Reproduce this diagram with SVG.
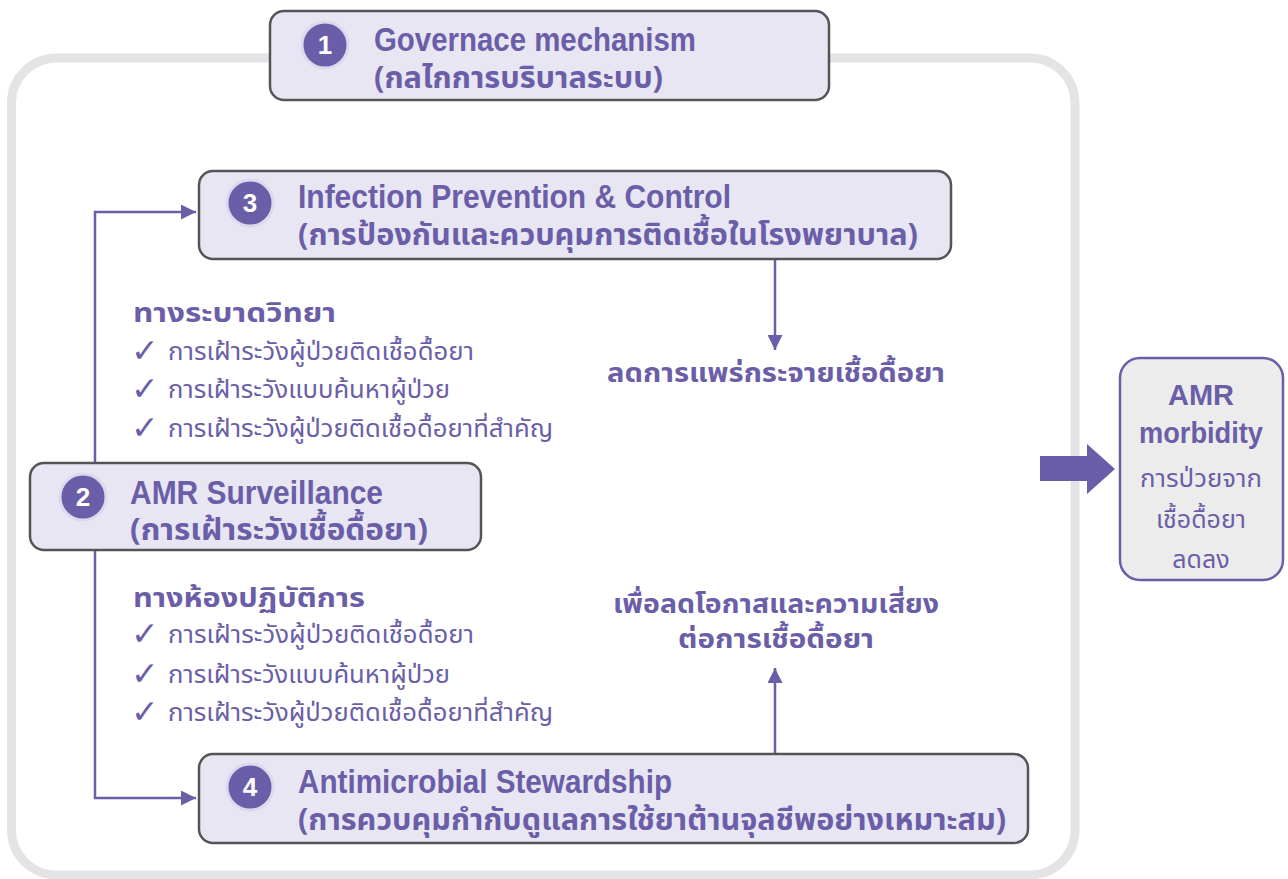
<svg xmlns="http://www.w3.org/2000/svg" width="1288" height="879" viewBox="0 0 1288 879">
<defs>
<style>
.box{fill:#e8e6f3;stroke:#555558;stroke-width:2.5}
.num{fill:#6b5ea8;stroke:#dcd8ee;stroke-width:3}
.numt{fill:#ffffff;font-family:"Liberation Sans",Arial,sans-serif;font-weight:bold;font-size:26px;text-anchor:middle}
.en{fill:#6b5ea8;font-family:"Liberation Sans Narrow","Liberation Sans",Arial,sans-serif;font-weight:bold;font-size:34px}
.th{fill:#6b5ea8;font-family:"Noto Sans","Noto Sans Thai","Liberation Sans",sans-serif;font-weight:bold;font-size:30px}
.hd{fill:#6b5ea8;font-family:"Noto Sans","Noto Sans Thai","Liberation Sans",sans-serif;font-weight:bold;font-size:26px}
.it{fill:#6b5ea8;font-family:"Noto Sans","Noto Sans Thai","Liberation Sans",sans-serif;font-size:24px}
.ck{fill:#6b5ea8;font-family:"DejaVu Sans",sans-serif;font-size:33px}
.conn{fill:none;stroke:#6b5ea8;stroke-width:2.5}
</style>
<marker id="ah" viewBox="0 0 10 10" refX="10" refY="5" markerWidth="6" markerHeight="6" markerUnits="strokeWidth" orient="auto">
<path d="M0,0 L10,5 L0,10 z" fill="#6b5ea8"/>
</marker>
</defs>
<rect width="1288" height="879" fill="#ffffff"/>
<rect id="container" x="11.5" y="58" width="1063.5" height="817" rx="45" fill="none" stroke="#e3e4e6" stroke-width="9"/>

<g id="connectors">
<path class="conn" d="M95,463 V212 H196" marker-end="url(#ah)"/>
<path class="conn" d="M95,550 V798 H196" marker-end="url(#ah)"/>
<path class="conn" d="M775,259 V350" marker-end="url(#ah)"/>
<path class="conn" d="M775,754 V668" marker-end="url(#ah)"/>
<path id="big-arrow" d="M1040,456 H1087 V444 L1115,469 L1087,494 V481 H1040 z" fill="#6b5ea8"/>
</g>

<g id="node1">
<rect class="box" x="270" y="11" width="559" height="89" rx="14"/>
<circle class="num" cx="325" cy="45" r="23"/>
<text class="numt" x="325" y="54">1</text>
<text class="en" x="374" y="51" textLength="322" lengthAdjust="spacingAndGlyphs">Governace mechanism</text>
<text class="th" x="374" y="88" textLength="289" lengthAdjust="spacingAndGlyphs">(กลไกการบริบาลระบบ)</text>
</g>

<g id="node3">
<rect class="box" x="199" y="171" width="752" height="88" rx="14"/>
<circle class="num" cx="250" cy="203" r="23"/>
<text class="numt" x="250" y="212">3</text>
<text class="en" x="298" y="208" textLength="433" lengthAdjust="spacingAndGlyphs">Infection Prevention &amp; Control</text>
<text class="th" x="298" y="245" textLength="620" lengthAdjust="spacingAndGlyphs">(การป้องกันและควบคุมการติดเชื้อในโรงพยาบาล)</text>
</g>

<g id="node2">
<rect class="box" x="30" y="463" width="451" height="87" rx="14"/>
<circle class="num" cx="83" cy="497" r="23"/>
<text class="numt" x="83" y="506">2</text>
<text class="en" x="130" y="504" textLength="253" lengthAdjust="spacingAndGlyphs">AMR Surveillance</text>
<text class="th" x="130" y="540" textLength="298" lengthAdjust="spacingAndGlyphs">(การเฝ้าระวังเชื้อดื้อยา)</text>
</g>

<g id="node4">
<rect class="box" x="199" y="754" width="829" height="89" rx="14"/>
<circle class="num" cx="250" cy="787" r="23"/>
<text class="numt" x="250" y="796">4</text>
<text class="en" x="298" y="793" textLength="374" lengthAdjust="spacingAndGlyphs">Antimicrobial Stewardship</text>
<text class="th" x="298" y="830" textLength="708" lengthAdjust="spacingAndGlyphs">(การควบคุมกำกับดูแลการใช้ยาต้านจุลชีพอย่างเหมาะสม)</text>
</g>

<g id="node-morbidity">
<rect x="1120" y="358" width="163" height="222" rx="20" fill="#ececec" stroke="#6b5ea8" stroke-width="2.5"/>
<text class="en" x="1201" y="405" text-anchor="middle" style="font-size:29px">AMR</text>
<text class="en" x="1201" y="443" text-anchor="middle" style="font-size:29px" textLength="124" lengthAdjust="spacingAndGlyphs">morbidity</text>
<text class="it" x="1201" y="487" text-anchor="middle" style="font-size:25px" textLength="122" lengthAdjust="spacingAndGlyphs">การป่วยจาก</text>
<text class="it" x="1201" y="528" text-anchor="middle" style="font-size:25px">เชื้อดื้อยา</text>
<text class="it" x="1201" y="568" text-anchor="middle" style="font-size:25px">ลดลง</text>
</g>

<g id="epi-list">
<text class="hd" x="133" y="322" textLength="203" lengthAdjust="spacingAndGlyphs">ทางระบาดวิทยา</text>
<text class="ck" x="131" y="362">✓</text>
<text class="it" x="168" y="360" textLength="306" lengthAdjust="spacingAndGlyphs">การเฝ้าระวังผู้ป่วยติดเชื้อดื้อยา</text>
<text class="ck" x="131" y="400">✓</text>
<text class="it" x="168" y="398" textLength="282" lengthAdjust="spacingAndGlyphs">การเฝ้าระวังแบบค้นหาผู้ป่วย</text>
<text class="ck" x="131" y="439">✓</text>
<text class="it" x="168" y="437" textLength="385" lengthAdjust="spacingAndGlyphs">การเฝ้าระวังผู้ป่วยติดเชื้อดื้อยาที่สำคัญ</text>
</g>

<g id="lab-list">
<text class="hd" x="133" y="607" textLength="232" lengthAdjust="spacingAndGlyphs">ทางห้องปฏิบัติการ</text>
<text class="ck" x="131" y="645">✓</text>
<text class="it" x="168" y="643" textLength="306" lengthAdjust="spacingAndGlyphs">การเฝ้าระวังผู้ป่วยติดเชื้อดื้อยา</text>
<text class="ck" x="131" y="685">✓</text>
<text class="it" x="168" y="683" textLength="282" lengthAdjust="spacingAndGlyphs">การเฝ้าระวังแบบค้นหาผู้ป่วย</text>
<text class="ck" x="131" y="723">✓</text>
<text class="it" x="168" y="721" textLength="385" lengthAdjust="spacingAndGlyphs">การเฝ้าระวังผู้ป่วยติดเชื้อดื้อยาที่สำคัญ</text>
</g>

<g id="outcomes">
<text class="hd" x="776" y="382" text-anchor="middle" textLength="338" lengthAdjust="spacingAndGlyphs">ลดการแพร่กระจายเชื้อดื้อยา</text>
<text class="hd" x="776" y="613" text-anchor="middle" textLength="326" lengthAdjust="spacingAndGlyphs">เพื่อลดโอกาสและความเสี่ยง</text>
<text class="hd" x="776" y="648" text-anchor="middle" textLength="196" lengthAdjust="spacingAndGlyphs">ต่อการเชื้อดื้อยา</text>
</g>
</svg>
